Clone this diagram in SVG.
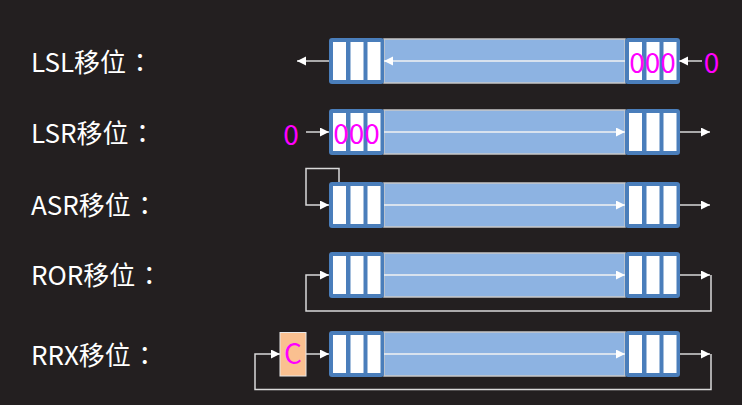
<svg xmlns="http://www.w3.org/2000/svg" xmlns:xlink="http://www.w3.org/1999/xlink" width="742" height="405" viewBox="0 0 742 405">
<style>
.lbl{font-family:"Noto Sans CJK SC","Noto Sans",sans-serif;font-size:26px;fill:#ffffff}
.col{font-family:"Noto Sans CJK JP","Noto Sans CJK SC",sans-serif}
.mag{font-family:"Noto Sans CJK SC","Noto Sans",sans-serif;font-size:28px;fill:#ff00ff;text-anchor:middle}
.band{fill:#8db3e2;stroke:#c8c8c8;stroke-width:1.5}
.con{fill:none;stroke:#d9d9d9;stroke-width:1.5}
.mid{fill:none;stroke:#f2f2f2;stroke-width:1.5}
</style>
<defs>
<marker id="ah" markerUnits="userSpaceOnUse" markerWidth="10" markerHeight="10" refX="9" refY="4.5" orient="auto">
<path d="M0,0 L9,4.5 L0,9 z" fill="#ffffff"/>
</marker>
<g id="blk">
<rect x="0" y="0" width="55" height="46" rx="3" fill="#4a7ebb"/>
<rect x="4" y="4" width="13" height="38" fill="#ffffff"/>
<rect x="21.5" y="4" width="13" height="38" fill="#ffffff"/>
<rect x="38.5" y="4" width="13" height="38" fill="#ffffff"/>
</g>
</defs>
<rect width="742" height="405" fill="#231f20"/>

<g id="labels">
<text class="lbl" x="31" y="72">LSL移位<tspan class="col" dx="1">：</tspan></text>
<text class="lbl" x="31" y="143">LSR移位<tspan class="col" dx="1">：</tspan></text>
<text class="lbl" x="31" y="215">ASR移位<tspan class="col" dx="1">：</tspan></text>
<text class="lbl" x="31" y="285">ROR移位<tspan class="col" dx="1">：</tspan></text>
<text class="lbl" x="31" y="365">RRX移位<tspan class="col" dx="1">：</tspan></text>
</g>

<g id="row-lsl">
<rect class="band" x="384" y="39" width="241" height="44"/>
<use xlink:href="#blk" x="329" y="38"/>
<use xlink:href="#blk" x="625" y="38"/>
<text class="mag" x="652.5" y="73">000</text>
<text class="mag" x="711.5" y="73">0</text>
</g>

<g id="row-lsr">
<rect class="band" x="384" y="110" width="241" height="44"/>
<use xlink:href="#blk" x="329" y="109"/>
<use xlink:href="#blk" x="625" y="109"/>
<text class="mag" x="356.5" y="144">000</text>
<text class="mag" x="291" y="145">0</text>
</g>

<g id="row-asr">
<rect class="band" x="384" y="183" width="241" height="44"/>
<use xlink:href="#blk" x="329" y="182"/>
<use xlink:href="#blk" x="625" y="182"/>
</g>

<g id="row-ror">
<rect class="band" x="384" y="253" width="241" height="44"/>
<use xlink:href="#blk" x="329" y="252"/>
<use xlink:href="#blk" x="625" y="252"/>
</g>

<g id="row-rrx">
<rect class="band" x="384" y="332" width="241" height="44"/>
<use xlink:href="#blk" x="329" y="331"/>
<use xlink:href="#blk" x="625" y="331"/>
</g>

<g id="carry">
<rect x="280" y="332.5" width="26" height="43.5" fill="#fac090" stroke="#e8e8e8" stroke-width="1"/>
<text class="mag" x="293" y="364">C</text>
</g>

<g id="connectors">
<line class="mid" x1="625" y1="61" x2="384" y2="61" marker-end="url(#ah)"/>
<line class="con" x1="329" y1="61" x2="297" y2="61" marker-end="url(#ah)"/>
<line class="con" x1="702" y1="61" x2="679" y2="61" marker-end="url(#ah)"/>

<line class="mid" x1="384" y1="132" x2="625" y2="132" marker-end="url(#ah)"/>
<line class="con" x1="306" y1="132" x2="329" y2="132" marker-end="url(#ah)"/>
<line class="con" x1="680" y1="132" x2="710" y2="132" marker-end="url(#ah)"/>

<line class="mid" x1="384" y1="205" x2="625" y2="205" marker-end="url(#ah)"/>
<path class="con" d="M339,182 V168.5 H306 V205 H329" marker-end="url(#ah)"/>
<line class="con" x1="680" y1="205" x2="710" y2="205" marker-end="url(#ah)"/>

<line class="mid" x1="384" y1="275" x2="625" y2="275" marker-end="url(#ah)"/>
<line class="con" x1="680" y1="275" x2="710" y2="275" marker-end="url(#ah)"/>
<path class="con" d="M711,275 V311 H306 V275 H329" marker-end="url(#ah)"/>

<line class="mid" x1="384" y1="354" x2="625" y2="354" marker-end="url(#ah)"/>
<line class="con" x1="306" y1="354" x2="329" y2="354" marker-end="url(#ah)"/>
<line class="con" x1="680" y1="354" x2="710" y2="354" marker-end="url(#ah)"/>
<path class="con" d="M711,354 V389.5 H255 V354 H280" marker-end="url(#ah)"/>
</g>
</svg>
